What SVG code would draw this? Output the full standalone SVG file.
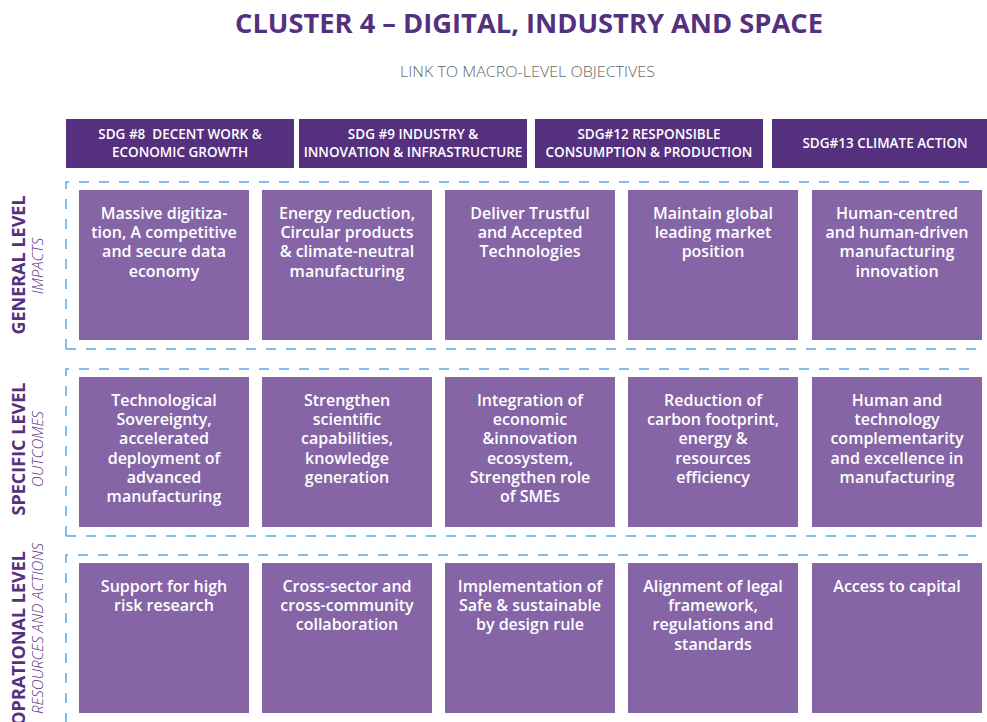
<svg xmlns="http://www.w3.org/2000/svg" width="987" height="722" viewBox="0 0 987 722">
<style>
  .hdr { fill: #55307f; }
  .box { fill: #8565a6; }
  .frame { fill: none; stroke: #5ca9de; stroke-width: 1.5; stroke-dasharray: 10 10; }
  .t { font-family: "Open Sans", "Liberation Sans", sans-serif; }
  .ht { font-family: "Open Sans", "Liberation Sans", sans-serif; font-size: 13.5px; font-weight: 600; fill: #ffffff; text-anchor: middle; }
  .bt { font-family: "Open Sans", "Liberation Sans", sans-serif; font-size: 16px; font-weight: 600; fill: #ffffff; text-anchor: middle; }
  .lvl { font-family: "Open Sans", "Liberation Sans", sans-serif; font-size: 18px; font-weight: bold; fill: #55307f; }
  .sub { font-family: "Open Sans", "Liberation Sans", sans-serif; font-size: 15px; font-style: italic; font-weight: 300; fill: #55307f; }
</style>
<rect width="987" height="722" fill="#ffffff"/>

<text class="t" x="529" y="33" text-anchor="middle" font-size="26" font-weight="bold" fill="#55307f" textLength="588" lengthAdjust="spacingAndGlyphs">CLUSTER 4 – DIGITAL, INDUSTRY AND SPACE</text>
<text class="t" x="527.5" y="77" text-anchor="middle" font-size="15" font-weight="300" fill="#666666" textLength="255" lengthAdjust="spacingAndGlyphs">LINK TO MACRO-LEVEL OBJECTIVES</text>

<g id="frames">
  <path class="frame" d="M66 349 L66 182 L978 182 M66 349 L978 349"/>
  <path class="frame" d="M66 536 L66 369 L978 369 M66 536 L978 536"/>
  <path class="frame" d="M66 723 L66 555 L978 555"/>
</g>

<g id="sdg8"><rect class="hdr" x="66" y="119" width="228" height="49"/>
  <text class="ht" x="180" y="139" xml:space="preserve">SDG #8  DECENT WORK &amp;</text><text class="ht" x="180" y="157">ECONOMIC GROWTH</text></g>
<g id="sdg9"><rect class="hdr" x="299" y="119" width="228" height="49"/>
  <text class="ht" x="413" y="139">SDG #9 INDUSTRY &amp;</text><text class="ht" x="413" y="157">INNOVATION &amp; INFRASTRUCTURE</text></g>
<g id="sdg12"><rect class="hdr" x="535" y="119" width="228" height="49"/>
  <text class="ht" x="649" y="139">SDG#12 RESPONSIBLE</text><text class="ht" x="649" y="157">CONSUMPTION &amp; PRODUCTION</text></g>
<g id="sdg13"><rect class="hdr" x="772" y="119" width="228" height="49"/>
  <text class="ht" x="885" y="148">SDG#13 CLIMATE ACTION</text></g>

<g id="label-general">
  <text class="lvl" transform="translate(25,265) rotate(-90)" text-anchor="middle">GENERAL LEVEL</text>
  <text class="sub" transform="translate(43,266) rotate(-90)" text-anchor="middle">IMPACTS</text>
</g>
<g id="label-specific">
  <text class="lvl" transform="translate(25,449) rotate(-90)" text-anchor="middle">SPECIFIC LEVEL</text>
  <text class="sub" transform="translate(43,449) rotate(-90)" text-anchor="middle">OUTCOMES</text>
</g>
<g id="label-operational">
  <text class="lvl" transform="translate(25,551) rotate(-90)" text-anchor="end">OPRATIONAL LEVEL</text>
  <text class="sub" transform="translate(43,543) rotate(-90)" text-anchor="end">RESOURCES AND ACTIONS</text>
</g>

<!-- General level -->
<g id="g1"><rect class="box" x="79" y="190" width="170" height="150"/>
  <text class="bt" x="164" y="219">Massive digitiza-</text><text class="bt" x="164" y="238.2">tion, A competitive</text><text class="bt" x="164" y="257.4">and secure data</text><text class="bt" x="164" y="276.6">economy</text></g>
<g id="g2"><rect class="box" x="262" y="190" width="170" height="150"/>
  <text class="bt" x="347" y="219">Energy reduction,</text><text class="bt" x="347" y="238.2">Circular products</text><text class="bt" x="347" y="257.4">&amp; climate-neutral</text><text class="bt" x="347" y="276.6">manufacturing</text></g>
<g id="g3"><rect class="box" x="445" y="190" width="170" height="150"/>
  <text class="bt" x="530" y="219">Deliver Trustful</text><text class="bt" x="530" y="238.2">and Accepted</text><text class="bt" x="530" y="257.4">Technologies</text></g>
<g id="g4"><rect class="box" x="628" y="190" width="170" height="150"/>
  <text class="bt" x="713" y="219">Maintain global</text><text class="bt" x="713" y="238.2">leading market</text><text class="bt" x="713" y="257.4">position</text></g>
<g id="g5"><rect class="box" x="812" y="190" width="170" height="150"/>
  <text class="bt" x="897" y="219">Human-centred</text><text class="bt" x="897" y="238.2">and human-driven</text><text class="bt" x="897" y="257.4">manufacturing</text><text class="bt" x="897" y="276.6">innovation</text></g>

<!-- Specific level -->
<g id="s1"><rect class="box" x="79" y="377" width="170" height="150"/>
  <text class="bt" x="164" y="406">Technological</text><text class="bt" x="164" y="425.2">Sovereignty,</text><text class="bt" x="164" y="444.4">accelerated</text><text class="bt" x="164" y="463.6">deployment of</text><text class="bt" x="164" y="482.8">advanced</text><text class="bt" x="164" y="502">manufacturing</text></g>
<g id="s2"><rect class="box" x="262" y="377" width="170" height="150"/>
  <text class="bt" x="347" y="406">Strengthen</text><text class="bt" x="347" y="425.2">scientific</text><text class="bt" x="347" y="444.4">capabilities,</text><text class="bt" x="347" y="463.6">knowledge</text><text class="bt" x="347" y="482.8">generation</text></g>
<g id="s3"><rect class="box" x="445" y="377" width="170" height="150"/>
  <text class="bt" x="530" y="406">Integration of</text><text class="bt" x="530" y="425.2">economic</text><text class="bt" x="530" y="444.4">&amp;innovation</text><text class="bt" x="530" y="463.6">ecosystem,</text><text class="bt" x="530" y="482.8">Strengthen role</text><text class="bt" x="530" y="502">of SMEs</text></g>
<g id="s4"><rect class="box" x="628" y="377" width="170" height="150"/>
  <text class="bt" x="713" y="406">Reduction of</text><text class="bt" x="713" y="425.2">carbon footprint,</text><text class="bt" x="713" y="444.4">energy &amp;</text><text class="bt" x="713" y="463.6">resources</text><text class="bt" x="713" y="482.8">efficiency</text></g>
<g id="s5"><rect class="box" x="812" y="377" width="170" height="150"/>
  <text class="bt" x="897" y="406">Human and</text><text class="bt" x="897" y="425.2">technology</text><text class="bt" x="897" y="444.4">complementarity</text><text class="bt" x="897" y="463.6">and excellence in</text><text class="bt" x="897" y="482.8">manufacturing</text></g>

<!-- Operational level -->
<g id="o1"><rect class="box" x="79" y="563" width="170" height="150"/>
  <text class="bt" x="164" y="592">Support for high</text><text class="bt" x="164" y="611.2">risk research</text></g>
<g id="o2"><rect class="box" x="262" y="563" width="170" height="150"/>
  <text class="bt" x="347" y="592">Cross-sector and</text><text class="bt" x="347" y="611.2">cross-community</text><text class="bt" x="347" y="630.4">collaboration</text></g>
<g id="o3"><rect class="box" x="445" y="563" width="170" height="150"/>
  <text class="bt" x="530" y="592">Implementation of</text><text class="bt" x="530" y="611.2">Safe &amp; sustainable</text><text class="bt" x="530" y="630.4">by design rule</text></g>
<g id="o4"><rect class="box" x="628" y="563" width="170" height="150"/>
  <text class="bt" x="713" y="592">Alignment of legal</text><text class="bt" x="713" y="611.2">framework,</text><text class="bt" x="713" y="630.4">regulations and</text><text class="bt" x="713" y="649.6">standards</text></g>
<g id="o5"><rect class="box" x="812" y="563" width="170" height="150"/>
  <text class="bt" x="897" y="592">Access to capital</text></g>

<g id="connectors"/>
</svg>
